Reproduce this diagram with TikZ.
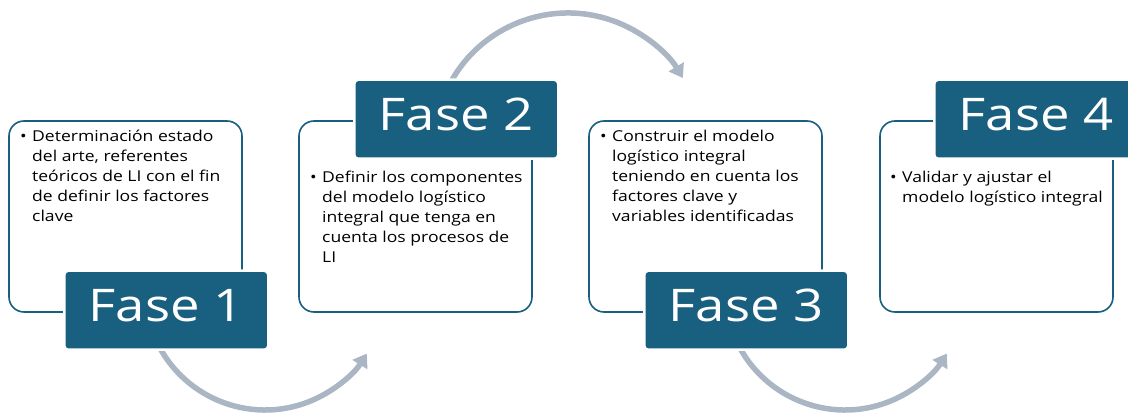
\documentclass[tikz,border=0pt]{standalone}
\usepackage{fontspec}
\setmainfont{Open Sans}[FakeStretch=1.17]
\usetikzlibrary{arrows.meta}
\definecolor{teal}{RGB}{24,95,128}
\definecolor{arrowgrey}{RGB}{170,182,195}
\newcommand{\bodypar}[1]{\parbox[t]{215pt}{\raggedright #1}}
\begin{document}
\begin{tikzpicture}[x=1pt,y=1pt,
  panel/.style={draw=teal, line width=1.6pt, fill=white, rounded corners=15pt, anchor=south west, minimum width=233pt, minimum height=191pt, inner sep=0pt, outer sep=0pt},
  phase/.style={fill=teal, draw=white, line width=2.5pt, rounded corners=4pt, anchor=south west, minimum width=204pt, minimum height=79pt, inner sep=0pt, text=white, text height=33pt, text depth=10pt, font=\fontsize{45}{50}\selectfont},
  bodytext/.style={anchor=base west, align=left, inner sep=0pt, font=\fontsize{15}{20}\selectfont},
  bullet/.style={anchor=base west, inner sep=0pt, font=\fontsize{15}{20}\selectfont},
  curvearrow/.style={draw=arrowgrey, line width=5.5pt, -{Triangle[length=13pt,width=17pt]}}
]
\useasboundingbox (0,0) rectangle (1128,415);
% arc centres
\coordinate (c1) at (265,125);
\coordinate (c2) at (568,268);
\coordinate (c3) at (845,125);
% curved arrows (behind the boxes)
\draw[curvearrow] (c1) ++(205:120) arc[start angle=205, end angle=328, radius=120];
\draw[curvearrow] (c2) ++(155:134) arc[start angle=155, end angle=31, radius=134];
\draw[curvearrow] (c3) ++(205:120) arc[start angle=205, end angle=328, radius=120];
% panels
\node[panel] (b1) at (9,103) {};
\node[panel] (b2) at (299,103) {};
\node[panel] (b3) at (589,103) {};
\node[panel] (b4) at (880,103) {};
% phase labels
\node[phase] (f1) at (63,64) {Fase 1};
\node[phase] (f2) at (353,255) {Fase 2};
\node[phase] (f3) at (643,64) {Fase 3};
\node[phase] (f4) at (933,255) {Fase 4};
% texts
\node[bullet] (u1) at (20,273) {•};
\node[bodytext] (t1) at (32,273) {\bodypar{Determinación estado\\del arte, referentes\\teóricos de LI con el fin\\de definir los factores\\clave}};
\node[bullet] (u2) at (310,232) {•};
\node[bodytext] (t2) at (322,232) {\bodypar{Definir los componentes\\del modelo logístico\\integral que tenga en\\cuenta los procesos de\\LI}};
\node[bullet] (u3) at (600,273) {•};
\node[bodytext] (t3) at (612,273) {\bodypar{Construir el modelo\\logístico integral\\teniendo en cuenta los\\factores clave y\\variables identificadas}};
\node[bullet] (u4) at (890,232) {•};
\node[bodytext] (t4) at (902,232) {\bodypar{Validar y ajustar el\\modelo logístico integral}};
\end{tikzpicture}
\end{document}
